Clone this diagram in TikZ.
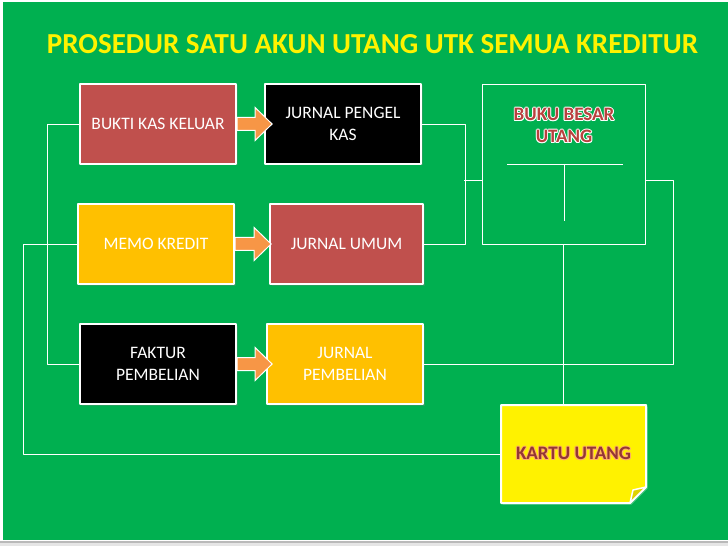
\documentclass[tikz,border=0pt]{standalone}
\usepackage{fontspec}
\setmainfont{Carlito}
\usepackage{contour}
\contourlength{0.9pt}
\contournumber{8}
\usetikzlibrary{shadows,calc}
\definecolor{slidegreen}{HTML}{00B050}
\definecolor{boxred}{HTML}{C0504D}
\definecolor{boxgold}{HTML}{FFC000}
\definecolor{arroworange}{HTML}{F79646}
\definecolor{notered}{HTML}{943634}
\definecolor{ledgerred}{HTML}{B8413E}
\begin{document}
\begin{tikzpicture}[x=1bp,y=-1bp,line join=bevel,
  docbox/.style={draw=white,line width=2.2bp,minimum width=156bp,minimum height=80bp,
    inner sep=2bp,align=center,text=white,font=\fontsize{17.5bp}{22bp}\selectfont,
    drop shadow={shadow xshift=1.5bp,shadow yshift=-1.5bp,opacity=.3}},
  wire/.style={draw=white,line width=0.9bp},
  blockarrow/.style={fill=arroworange,draw=white,line width=1bp,line join=miter}]
  \useasboundingbox (0,0) rectangle (728,546);
%%
  % Slide
  \fill[white] (0,0) rectangle (728,546);
  \fill[slidegreen] (3,2) rectangle (728,540);
  \fill[gray!55] (0,540.5) rectangle (728,543);
  \fill[gray!20] (0,543) rectangle (728,546);
  \node (title) at (372.5,44) {\fontsize{29bp}{32bp}\selectfont\bfseries\color{yellow}PROSEDUR SATU AKUN UTANG UTK SEMUA KREDITUR};
  % Node: bkk
  \node[docbox,fill=boxred] (bkk) at (158,124) {BUKTI KAS KELUAR};
  % Node: jpk
  \node[docbox,fill=black] (jpk) at (343,124) {JURNAL PENGEL\\KAS};
  % Node: memo
  \node[docbox,fill=boxgold] (memo) at (156,244) {MEMO KREDIT};
  % Node: ju
  \node[docbox,fill=boxred,minimum width=153bp] (ju) at (346.5,244) {JURNAL UMUM};
  % Node: fak
  \node[docbox,fill=black] (fak) at (158,364) {FAKTUR\\PEMBELIAN};
  % Node: jpb
  \node[docbox,fill=boxgold] (jpb) at (345,364) {JURNAL\\PEMBELIAN};
  % Node: bb
  \node[draw=white,line width=0.9bp,minimum width=163bp,minimum height=160bp] (bb) at (563.5,164) {};
  \node[align=center,text=ledgerred,font=\fontsize{19bp}{22bp}\selectfont\bfseries] (bbtext) at (564,126)
    {\contour{white}{BUKU BESAR}\\\contour{white}{UTANG}};
  \draw[wire] (507,164) -- (623,164);
  \draw[wire] (564,164) -- (564,221);
  % Node: kartu
  \fill[white,opacity=.3] (502.5,406.5) -- (647.5,406.5) -- (647.5,488.5) -- (631.5,504.5) -- (502.5,504.5) -- cycle;
  \filldraw[fill=yellow,draw=white,line width=2bp] (501,405) -- (646,405) -- (646,487) -- (630,503) -- (501,503) -- cycle;
  \filldraw[fill=yellow!70!olive,draw=white,line width=1.5bp] (646,487) -- (633,490) -- (630,503) -- cycle;
  \node[minimum width=145bp,minimum height=98bp,text=notered,font=\fontsize{19bp}{22bp}\selectfont\bfseries] (kartu) at (573.5,454) {\contour{orange!60}{KARTU UTANG}};
%%
  % Edge: bkk -> jpk
  \draw[blockarrow] ($(bkk.east)+(0,-6.5)$) -- ++(18,0) -- ++(0,-10) -- ++(17,16.5) -- ++(-17,16.5) -- ++(0,-10) -- ++(-18,0) -- cycle;
  % Edge: memo -> ju
  \draw[blockarrow] ($(memo.east)+(0,-6.5)$) -- ++(19,0) -- ++(0,-10) -- ++(17,16.5) -- ++(-17,16.5) -- ++(0,-10) -- ++(-19,0) -- cycle;
  % Edge: fak -> jpb
  \draw[blockarrow] ($(fak.east)+(0,-6.5)$) -- ++(18,0) -- ++(0,-10) -- ++(17,16.5) -- ++(-17,16.5) -- ++(0,-10) -- ++(-18,0) -- cycle;
  % Edge: bkk -> fak
  \draw[wire] (bkk.west) -- ++(-31,0) |- (fak.west);
  % Edge: memo -> kartu
  \draw[wire] (memo.west) -- ++(-53,0) |- (kartu.west);
  % Edge: jpk -> ju, to bb
  \draw[wire] (jpk.east) -- ++(43,0) |- (ju.east);
  \coordinate (jbr) at (464,180);
  \draw[wire] (jbr) -- (jbr -| bb.west);
  % Edge: bb -> jpb
  \draw[wire] (jbr -| bb.east) -- ++(28,0) |- (jpb.east);
  % Edge: bb -> kartu
  \draw[wire] (bb.south) -- (bb.south |- kartu.north);
%
\end{tikzpicture}
\end{document}
